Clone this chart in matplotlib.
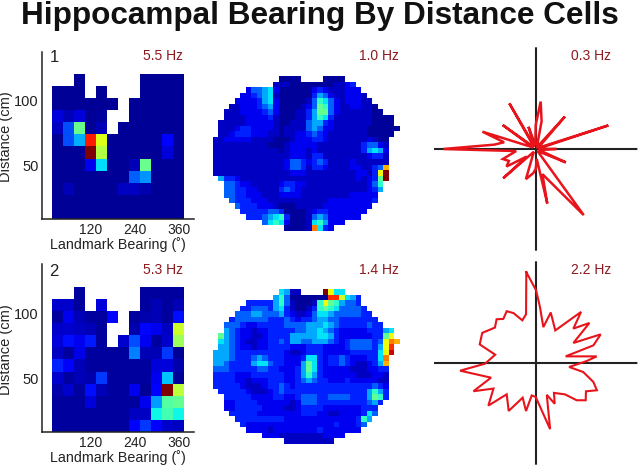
import numpy as np
import matplotlib
matplotlib.use("Agg")
import matplotlib.pyplot as plt

plt.rcParams["font.family"] = ["Liberation Sans", "DejaVu Sans"]

W, H = 640, 467
N = np.nan

# bearing by distance maps, values as fraction of the peak, top row first
bearing_ticks = [120, 240, 360]
distance_ticks = [50, 100]

bearing1 = [
    [N, N, .02, N, N, N, N, N, .02, .02, .02, .02],
    [.02, .02, .02, N, .02, N, N, N, .02, .02, .02, .02],
    [.02, .02, .02, .02, .02, .02, N, .02, .02, .02, .02, .02],
    [.08, .05, .08, .02, .03, N, N, .02, .02, .02, .02, .02],
    [.06, .2, .48, .02, .05, N, .02, .02, .02, .02, .02, .02],
    [.02, .2, .3, .88, .62, .02, .02, .02, .02, .02, .12, .02],
    [.02, .02, .02, 1, .57, .02, .02, .02, .02, .02, .08, .02],
    [.02, .02, .02, .1, .34, .02, .02, .05, .48, .02, .02, .02],
    [.02, .02, .02, .02, .02, .02, .02, .22, .27, .02, .02, .02],
    [.02, .05, .02, .02, .02, .02, .06, .06, .04, .02, .02, .02],
    [.02] * 12,
    [.02] * 12,
]
bearing2 = [
    [N, N, .03, N, N, N, N, N, .03, .03, .03, .03],
    [.07, .07, .03, N, .08, N, N, N, .03, .05, .03, .05],
    [.03, .1, .05, .03, .03, .13, N, .03, .04, .05, .03, .14],
    [.07, .07, .06, .05, .03, N, N, .04, .13, .1, .06, .6],
    [.08, .14, .1, .15, .03, N, .07, .2, .1, .03, .07, .54],
    [.06, .03, .09, .03, .03, .03, .03, .25, .05, .05, .18, .02],
    [.16, .12, .05, .03, .03, .03, .03, .03, .03, .08, .08, .04],
    [.07, .03, .05, .04, .18, .03, .03, .03, .03, .1, .32, .02],
    [.04, .07, .03, .14, .05, .03, .03, .1, .02, .12, 1, .58],
    [.03, .03, .03, .08, .03, .03, .03, .03, .1, .28, .45, .47],
    [.03, .03, .03, .03, .03, .03, .03, .06, .06, .37, .43, .37],
    [.03, .03, .03, .03, .03, .03, .03, .12, .18, .12, .07, .06],
]

# rate for each hex level used in the place maps
level_values = [.025, .06, .1, .16, .22, .29, .35, .41, .47, .6, .64, .72, .78, .86, .93, 1]

# place maps: (first column, hex level per cell, blank = not visited)
place1 = [
    (12, "0000    0000"),
    (11, "111000000001123"),
    (6, "244562000000232111222"),
    (5, "22345610000003542112221"),
    (4, "2222356200000147642122211"),
    (3, "112223452000012487421122110"),
    (2, "11122223420001135884211111100"),
    (2, "1111222231000113576311111110000"),
    (1, "11111222221001114553211111110000"),
    (1, "111233222210111145422111111000000"),
    (1, "11233322211011223432111111100000"),
    (0, "11222221111000122233211111112100"),
    (0, "11111111110001222221111111134421"),
    (0, "11111111111101222121111111135652"),
    (0, "11111111111111222133111111112331"),
    (0, "11111111111112443234311112111111"),
    (0, "1111111111111244313321111221134b"),
    (0, "111111111111112221111111112213af"),
    (1, "533211111111111111111111121238f"),
    (2, "44322111112332211111111111247"),
    (2, "44332211113432111111111111235"),
    (2, "4433222111222211111111122222"),
    (3, "433322211111111111222222223"),
    (4, "4333222100011111222222222"),
    (5, "33333443000012332222222"),
    (6, "333456730001454222222"),
    (9, "467620001675222"),
    (13, "00001c632"),
]
place2 = [
    (12, "6511    fa66"),
    (11, "5740000000dd9653"),
    (6, "33333574100017a875443"),
    (5, "33444356310013787644443"),
    (4, "4445544453211246654444433"),
    (3, "344444433343233455443333333"),
    (2, "44432233333444455565433333433"),
    (2, "5432212233333445565432222233356"),
    (1, "8543221123333555556653222222338a"),
    (1, "654321122334355445554323444434acb"),
    (1, "554322122333322233322223444435ad"),
    (0, "5554333333333211233322222333336ae"),
    (0, "55543334543332223663233432223 36c".replace(" ", "")),
    (0, "55433335664332225863233432112 35b".replace(" ", "")),
    (0, "44433333443322235863222221112233"),
    (0, "33332223333332235753222222111221"),
    (0, "33332212223332234543322232222211"),
    (0, "33333211123343233333333333333432"),
    (1, "3333321112343333333333333335753"),
    (2, "333332222332234443344443335873"),
    (2, "22333322222212444333333333453"),
    (2, "2233333222211233332222222333"),
    (3, "333332222222233322112222364"),
    (4, "3333333332222222222222375"),
    (5, "32222222222222222322234"),
    (6, "222212222222232222222"),
    (9, "222111111112222"),
    (13, "111111111"),
]

# directional tuning: bearing (deg) and rate, rate scale ends at 305
dir_angle1 = [0, 6, 12, 18, 24, 30, 36, 48, 54, 66, 78, 84, 90, 96, 108, 114, 120, 126, 132,
              144, 150, 162, 168, 174, 180, 186, 197, 204, 211, 220, 222, 236, 252, 264, 270,
              276, 282, 285, 306, 312, 336, 342, 350]
dir_rate1 = [58, 8, 12, 229, 10, 8, 15, 131, 8, 10, 85, 143, 72, 12, 70, 10, 158, 12, 8,
             122, 10, 168, 97, 125, 277, 59, 103, 88, 102, 35, 131, 10, 95, 73, 60,
             30, 167, 78, 245, 8, 99, 12, 15]
dir_angle2 = [95.9, 89.7, 85.6, 78, 73.4, 59, 48.4, 42.4, 36.7, 28, 23.8, 17, 12.5, 6.2, 2.2,
              -6.8, -10.7, -18.2, -24, -29.4, -36.7, -42.3, -46.9, -58.6, -65, -70.8, -77.7,
              -82.8, -90, -97, -101.4, -110.6, -119.4, -132.8, -138, -148.8, -155.6, -161.8,
              -174.2, -179.2, 168.4, 161.6, 150.6, 139, 131.8, 126.3, 119.3, 114, 107.4, 101.2]
dir_rate2 = [274, 218, 168, 110, 158, 114, 205, 153, 201, 128, 213, 181, 92, 184, 153,
             101, 145, 182, 201, 173, 187, 166, 129, 105, 135, 101, 203,
             143, 102, 98, 147, 111, 165, 128, 191, 148, 205, 141,
             228, 152, 124, 177, 184, 162, 176, 164, 178, 164, 134, 149]

rate_labels = ["5.5 Hz", "1.0 Hz", "0.3 Hz", "5.3 Hz", "1.4 Hz", "2.2 Hz"]
DARK_RED = "#8c1a1e"
INK = "#222222"


def px_axes(fig, left, top, right, bottom, **kw):
    return fig.add_axes([left / W, 1 - bottom / H, (right - left) / W, (bottom - top) / H], **kw)


def px_text(fig, x, y, s, **kw):
    fig.text(x / W, 1 - y / H, s, ha="center", va="center", **kw)


def jet():
    cmap = plt.get_cmap("jet").copy()
    cmap.set_bad("white")
    return cmap


def draw_bearing(fig, data, top_px, bottom_px):
    # image spans 12 cols of 30 deg, 12 rows of 9.23 cm
    ax = px_axes(fig, 41.7, top_px, 193.5, bottom_px)
    ax.imshow(np.array(data, dtype=float), cmap=jet(), vmin=0, vmax=1, aspect="auto",
              interpolation="nearest", extent=(15, 375, 8.5, 119.3))
    ax.set_xlim(-14, 400)
    ax.set_ylim(8.5, 8.5 + (bottom_px - top_px) / 1.3)
    for s in ["top", "right"]:
        ax.spines[s].set_visible(False)
    for s in ["left", "bottom"]:
        ax.spines[s].set_color(INK)
        ax.spines[s].set_linewidth(1.1)
    ax.set_xticks(bearing_ticks)
    ax.set_yticks(distance_ticks)
    ax.tick_params(axis="x", length=0, labelsize=10, colors=INK, pad=3)
    ax.tick_params(axis="y", length=0, labelsize=10.5, colors=INK, pad=2)
    ax.set_xlabel("Landmark Bearing (˚)", fontsize=10.3, color=INK, labelpad=0)
    ax.set_ylabel("Distance (cm)", fontsize=10.5, color=INK)
    ax.yaxis.set_label_coords(-0.19, 0.49)


def draw_place(fig, rows, top_px):
    grid = np.full((len(rows), 34), np.nan)
    for i, (start, cells) in enumerate(rows):
        for j, c in enumerate(cells):
            if c != " " and start + j < 34:
                grid[i, start + j] = level_values[int(c, 16)]
    ax = px_axes(fig, 213.3, top_px, 400.3, top_px + 155)
    ax.imshow(grid, cmap=jet(), vmin=0, vmax=1, aspect="auto", interpolation="nearest")
    ax.axis("off")


def draw_dir(fig, angle, rate, cy, lw):
    ax = px_axes(fig, 535.7 - 101.7, cy - 101.7, 535.7 + 101.7, cy + 101.7, projection="polar")
    for a in [0, 90]:
        ax.plot(np.radians([a, a + 180]), [305, 305], color=INK, lw=1.5)
    t = np.radians(angle + angle[:1])
    ax.plot(t, rate + rate[:1], color="#e8141c", lw=lw, solid_joinstyle="miter")
    ax.set_ylim(0, 305)
    ax.axis("off")


def main():
    fig = plt.figure(figsize=(W / 100, H / 100), dpi=100)
    px_text(fig, 320, 16, "Hippocampal Bearing By Distance Cells", fontsize=22.7,
            fontweight="bold", color="#111111")

    draw_bearing(fig, bearing1, 51.7, 219)
    draw_bearing(fig, bearing2, 264, 432.3)
    draw_place(fig, place1, 75.7)
    draw_place(fig, place2, 289)
    draw_dir(fig, dir_angle1, dir_rate1, 149, 1.8)
    draw_dir(fig, dir_angle2, dir_rate2, 363, 1.5)

    px_text(fig, 54, 57, "1", fontsize=12, color=INK)
    px_text(fig, 54, 271, "2", fontsize=12, color=INK)
    xs = [163, 379, 591]
    for k, label in enumerate(rate_labels):
        px_text(fig, xs[k % 3], 56 if k < 3 else 270.5, label, fontsize=10, color=DARK_RED)

    fig.savefig("out.png", dpi=100)


if __name__ == "__main__":
    main()
